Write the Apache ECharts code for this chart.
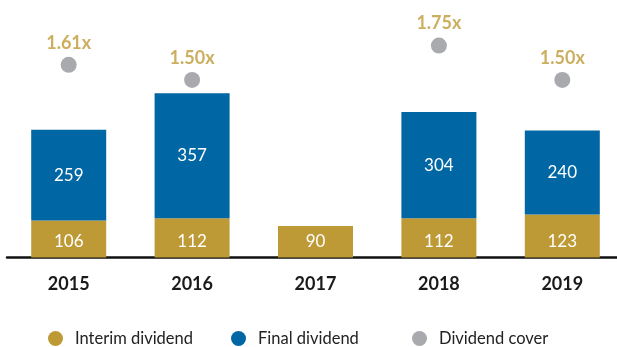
<!DOCTYPE html>
<html>
<head>
<meta charset="utf-8">
<style>
  html, body { margin: 0; padding: 0; background: #fff; }
  #chart { width: 617px; height: 347px; }
</style>
<script src="https://cdn.jsdelivr.net/npm/echarts@6/dist/echarts.min.js"></script>
</head>
<body>
<div id="chart"></div>
<script>
const years = ['2015', '2016', '2017', '2018', '2019'];
const interimDividend = [106, 112, 90, 112, 123];
const finalDividend = [259, 357, null, 304, 240];
const dividendCover = [1.61, 1.50, null, 1.75, 1.50];

const gold = '#BE9A36';
const blue = '#0066A4';
const grey = '#939598';
const font = 'Lato, "Open Sans", sans-serif';

const chart = echarts.init(document.getElementById('chart'));

const barLabel = {
  show: true,
  position: 'inside',
  color: '#fff',
  fontFamily: font,
  fontSize: 17,
};

const legendText = {
  color: '#222',
  fontFamily: font,
  fontSize: 16.5,
  padding: [0, 0, 0, 7],
};
const legendAt = (name, left) => ({
  data: [name],
  left,
  top: 330,
  icon: 'circle',
  itemWidth: 15,
  itemHeight: 15,
  itemGap: 0,
  padding: 0,
  selectedMode: false,
  textStyle: legendText,
});

chart.setOption({
  animation: false,
  grid: { left: 7, top: 12.5, width: 617, height: 245, outerBoundsMode: 'none' },
  legend: [
    legendAt('Interim dividend', 48),
    legendAt('Final dividend', 231),
    legendAt('Dividend cover', 412),
  ],
  xAxis: {
    type: 'category',
    data: years,
    offset: 2,
    axisLine: { show: true, lineStyle: { color: '#111', width: 2.5 } },
    axisTick: { show: false },
    axisLabel: {
      margin: 16,
      color: '#1a1a1a',
      fontFamily: font,
      fontSize: 18,
      fontWeight: 'bold',
    },
  },
  yAxis: [
    { type: 'value', min: 0, max: 700, show: false, splitLine: { show: false } },
    { type: 'value', min: 0.21, max: 1.99, show: false, splitLine: { show: false } },
  ],
  series: [
    {
      name: 'Interim dividend',
      type: 'bar',
      stack: 'div',
      barWidth: 75,
      itemStyle: { color: gold },
      label: { ...barLabel, position: 'insideBottom', distance: 7 },
      data: interimDividend,
    },
    {
      name: 'Final dividend',
      type: 'bar',
      stack: 'div',
      barWidth: 75,
      itemStyle: { color: blue },
      label: barLabel,
      data: finalDividend,
    },
    {
      name: 'Dividend cover',
      type: 'scatter',
      yAxisIndex: 1,
      symbol: 'circle',
      symbolSize: 16,
      itemStyle: { color: grey },
      label: {
        show: true,
        position: 'top',
        distance: 5,
        color: gold,
        fontFamily: font,
        fontSize: 18,
        fontWeight: 'bold',
        formatter: p => p.value.toFixed(2) + 'x',
      },
      data: dividendCover,
    },
  ],
});
</script>
</body>
</html>
